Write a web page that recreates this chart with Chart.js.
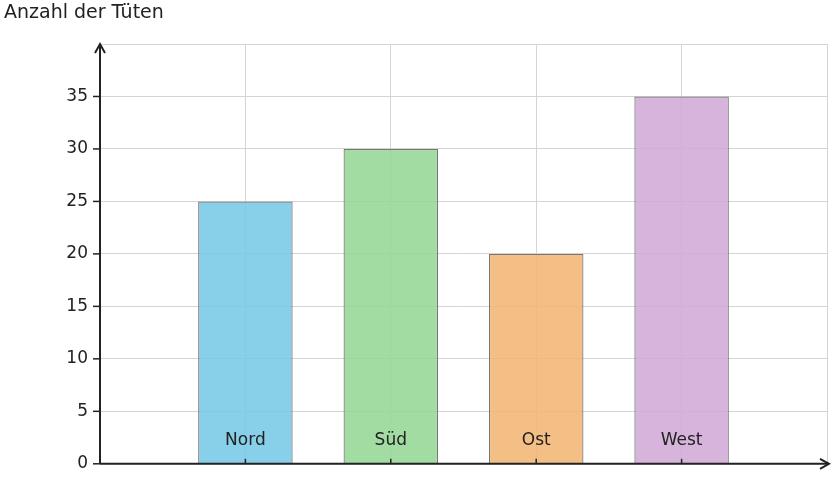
<!DOCTYPE html><html><head><meta charset="utf-8">
<script src="https://cdn.jsdelivr.net/npm/chart.js@4/dist/chart.umd.min.js"></script>
<style>html,body{margin:0;padding:0;background:#fff}#w{width:833px;height:486px}</style></head><body><div id="w"><canvas id="c"></canvas></div>
<script>
const categories=['','Nord','Süd','Ost','West',''];
const values=[null,25,30,20,35,null];
const colors=['rgba(0,0,0,0)','rgba(120,200,230,0.88)','rgba(150,215,150,0.88)','rgba(242,182,115,0.88)','rgba(210,170,215,0.88)','rgba(0,0,0,0)'];
const yTicks=[0,5,10,15,20,25,30,35];
const title='Anzahl der Tüten';
const FONT='"DejaVu Sans", sans-serif';
const deco={id:'deco',afterDraw(ch){
 const c=ch.ctx,a=ch.chartArea,x=ch.scales.x,y=ch.scales.y;
 c.save();
 c.fillStyle='#222';c.font='19px '+FONT;c.textBaseline='top';c.textAlign='left';
 c.fillText(title,4,4);
 c.strokeStyle='#222';c.lineWidth=2;
 c.beginPath();c.moveTo(a.left,a.bottom);c.lineTo(a.left,a.top);c.moveTo(a.left,a.bottom);c.lineTo(a.right+2,a.bottom);c.stroke();
 c.beginPath();c.moveTo(a.left-5,a.top+9);c.lineTo(a.left,a.top);c.lineTo(a.left+5,a.top+9);c.stroke();
 c.beginPath();c.moveTo(a.right-7,a.bottom-5);c.lineTo(a.right+2,a.bottom);c.lineTo(a.right-7,a.bottom+5);c.stroke();
 c.lineWidth=1.5;
 yTicks.forEach(t=>{const py=y.getPixelForValue(t);c.beginPath();c.moveTo(a.left-7,py);c.lineTo(a.left,py);c.stroke();});
 c.font='17px '+FONT;c.textAlign='center';c.textBaseline='middle';
 categories.forEach((k,i)=>{if(!k)return;const px=x.getPixelForValue(i);
  c.beginPath();c.moveTo(px,a.bottom);c.lineTo(px,a.bottom-5);c.stroke();
  c.fillText(k,px,441);});
 c.restore();}};
new Chart(document.getElementById('c'),{type:'bar',
 data:{labels:categories,datasets:[{data:values,backgroundColor:colors,borderColor:'#777',borderWidth:1.2,barPercentage:0.65,categoryPercentage:1}]},
 options:{responsive:true,maintainAspectRatio:false,animation:false,
 layout:{padding:{top:44,right:6,left:0,bottom:0}},
 plugins:{legend:{display:false},tooltip:{enabled:false}},
 scales:{
  x:{offset:false,grid:{offset:false,color:'#d4d4d4',drawTicks:false},border:{display:false},ticks:{display:false},afterFit(s){s.height=5;}},
  y:{min:0,max:40,grid:{color:'#d4d4d4',drawTicks:false},border:{display:false},
   ticks:{stepSize:5,padding:12,color:'#222',font:{size:17,family:FONT},callback:v=>v===40?'':v},
   afterFit(s){s.width=100;}}}},
 plugins:[deco]});
</script></body></html>
